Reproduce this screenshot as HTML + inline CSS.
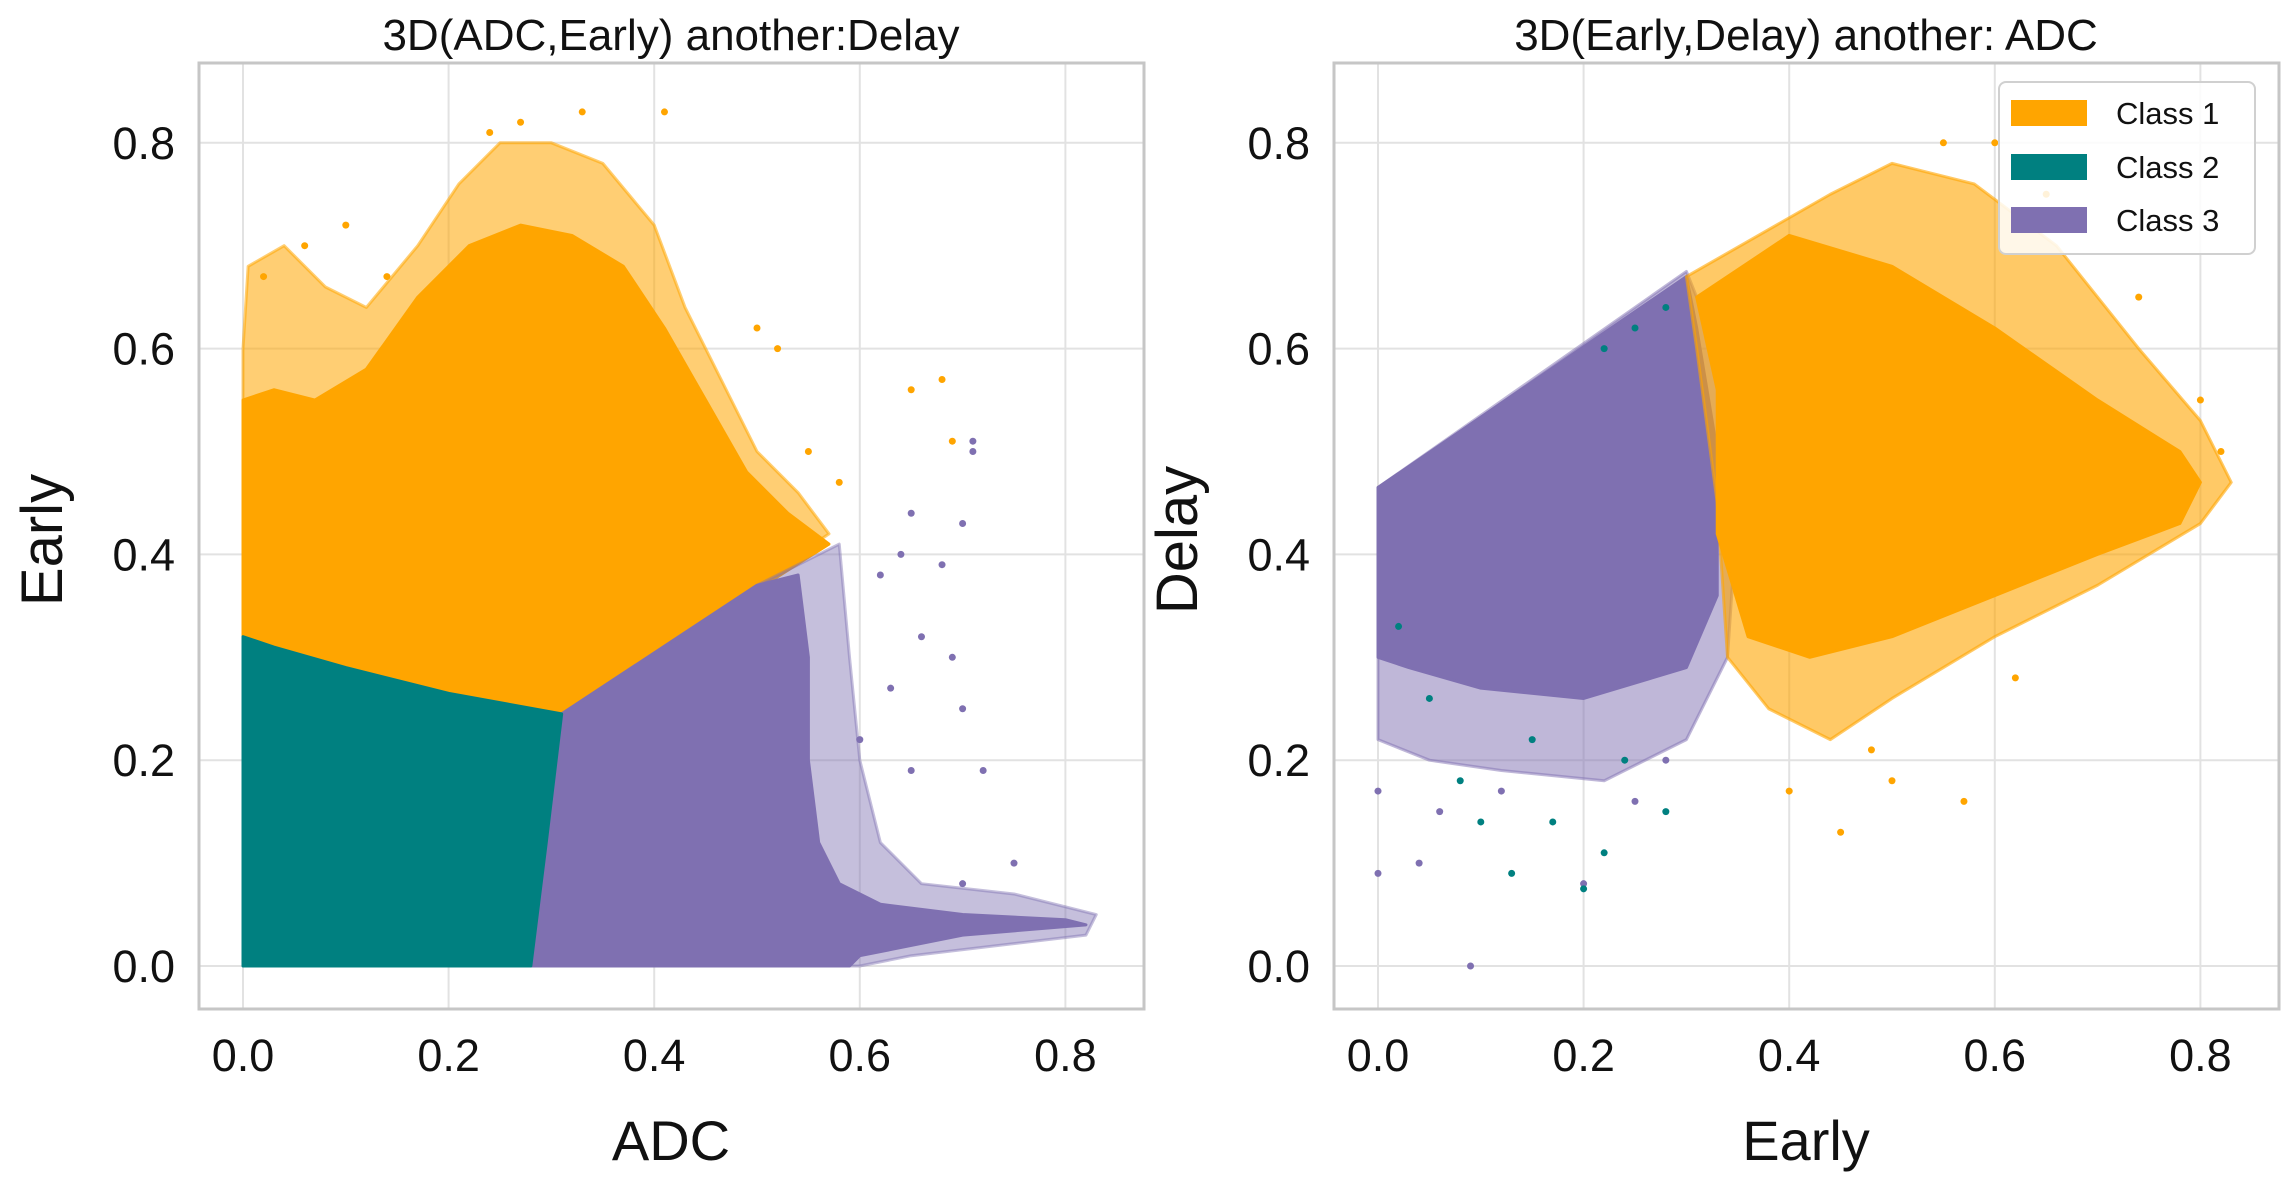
<!DOCTYPE html>
<html><head><meta charset="utf-8"><style>
html,body{margin:0;padding:0;background:#fff}
svg{display:block;font-family:"Liberation Sans",Arial,sans-serif}
</style></head><body>
<svg id="chart" width="2290" height="1181" viewBox="0 0 2290 1181" xmlns="http://www.w3.org/2000/svg">
<g id="left"></g>
<g id="right"></g>
</svg>
<script>
const ticks=[0,0.2,0.4,0.6,0.8];
const tickLabels=["0.0","0.2","0.4","0.6","0.8"];
// Left panel (ADC vs Early) region outlines in data coords [x,y]
const L_orangeFringe=[[0,0.32],[0,0.6],[0.005,0.68],[0.04,0.7],[0.08,0.66],[0.12,0.64],[0.17,0.7],[0.21,0.76],[0.25,0.8],[0.3,0.8],[0.35,0.78],[0.4,0.72],[0.43,0.64],[0.47,0.56],[0.5,0.5],[0.54,0.46],[0.57,0.42],[0.31,0.245],[0.2,0.265],[0.1,0.29]];
const L_orangeCore=[[0,0.32],[0,0.55],[0.03,0.56],[0.07,0.55],[0.12,0.58],[0.17,0.65],[0.22,0.7],[0.27,0.72],[0.32,0.71],[0.37,0.68],[0.41,0.62],[0.45,0.55],[0.49,0.48],[0.53,0.44],[0.57,0.41],[0.31,0.245],[0.2,0.265],[0.1,0.29]];
const L_purpleFringe=[[0.31,0.245],[0.5,0.37],[0.58,0.41],[0.59,0.3],[0.6,0.2],[0.62,0.12],[0.66,0.08],[0.75,0.07],[0.83,0.05],[0.82,0.03],[0.65,0.01],[0.6,0],[0.28,0]];
const L_purpleCore=[[0.31,0.245],[0.5,0.37],[0.54,0.38],[0.55,0.3],[0.55,0.2],[0.56,0.12],[0.58,0.08],[0.62,0.06],[0.7,0.05],[0.8,0.045],[0.82,0.04],[0.7,0.03],[0.6,0.01],[0.59,0],[0.28,0]];
const L_teal=[[0,0],[0.28,0],[0.295,0.12],[0.31,0.245],[0.2,0.265],[0.1,0.29],[0.03,0.31],[0,0.32]];
const L_orangePts=[[0.33,0.83],[0.24,0.81],[0.27,0.82],[0.41,0.83],[0.02,0.67],[0.06,0.7],[0.1,0.72],[0.14,0.67],[0.65,0.56],[0.68,0.57],[0.69,0.51],[0.5,0.62],[0.52,0.6],[0.58,0.47],[0.55,0.5]];
const L_purplePts=[[0.71,0.51],[0.71,0.5],[0.7,0.43],[0.65,0.44],[0.68,0.39],[0.62,0.38],[0.66,0.32],[0.69,0.3],[0.7,0.25],[0.63,0.27],[0.6,0.22],[0.65,0.19],[0.72,0.19],[0.75,0.1],[0.7,0.08],[0.64,0.4]];
// Right panel (Early vs Delay)
const R_purpleFringe=[[0,0.22],[0,0.465],[0.3,0.675],[0.33,0.6],[0.35,0.45],[0.34,0.3],[0.3,0.22],[0.22,0.18],[0.12,0.19],[0.05,0.2]];
const R_purpleCore=[[0,0.3],[0,0.465],[0.3,0.67],[0.31,0.62],[0.33,0.5],[0.33,0.36],[0.3,0.29],[0.2,0.26],[0.1,0.27],[0.03,0.29]];
const R_orangeFringe=[[0.3,0.67],[0.44,0.75],[0.5,0.78],[0.58,0.76],[0.66,0.7],[0.74,0.6],[0.8,0.53],[0.83,0.47],[0.8,0.43],[0.7,0.37],[0.6,0.32],[0.5,0.26],[0.44,0.22],[0.38,0.25],[0.34,0.3],[0.33,0.45],[0.31,0.6]];
const R_orangeCore=[[0.31,0.65],[0.4,0.71],[0.5,0.68],[0.6,0.62],[0.7,0.55],[0.78,0.5],[0.8,0.47],[0.78,0.43],[0.7,0.4],[0.6,0.36],[0.5,0.32],[0.42,0.3],[0.36,0.32],[0.33,0.42],[0.33,0.56]];
const R_orangePts=[[0.6,0.8],[0.55,0.8],[0.65,0.75],[0.74,0.65],[0.82,0.5],[0.8,0.55],[0.57,0.16],[0.5,0.18],[0.45,0.13],[0.4,0.17],[0.48,0.21],[0.62,0.28]];
const R_purplePts=[[0.0,0.09],[0.04,0.1],[0.09,0.0],[0.0,0.17],[0.06,0.15],[0.12,0.17],[0.2,0.08],[0.25,0.16],[0.28,0.2]];
const R_tealPts=[[0.08,0.18],[0.1,0.14],[0.13,0.09],[0.2,0.075],[0.22,0.11],[0.17,0.14],[0.24,0.2],[0.28,0.15],[0.05,0.26],[0.15,0.22],[0.22,0.6],[0.25,0.62],[0.28,0.64],[0.02,0.33]];

const C1="#FFA500",C2="#008080",C3="#7F70B1";
const NS="http://www.w3.org/2000/svg";
function mk(tag,attrs,parent){const e=document.createElementNS(NS,tag);for(const k in attrs)e.setAttribute(k,attrs[k]);parent.appendChild(e);return e;}

function panel(g,x0,box){
  const sx=v=>x0+v*1028, sy=v=>966-v*1029;
  const bg=mk('rect',{x:box[0],y:63,width:box[1]-box[0],height:1009-63,fill:'#fff'},g);
  
  
  ticks.forEach((t,i)=>{
    const gx=mk('line',{x1:sx(t),x2:sx(t),y1:63,y2:1009,stroke:'#e2e2e2','stroke-width':2},g);
    
    
    const gy=mk('line',{x1:box[0],x2:box[1],y1:sy(t),y2:sy(t),stroke:'#e2e2e2','stroke-width':2},g);
    
    
    const tx=mk('text',{x:sx(t),y:1071,'font-size':45,'text-anchor':'middle',fill:'#111'},g);
    tx.textContent=tickLabels[i];
    
    
    const ty=mk('text',{x:box[0]-24,y:sy(t)+16,'font-size':45,'text-anchor':'end',fill:'#111'},g);
    ty.textContent=tickLabels[i];
    
    
  });
  return {sx,sy};
}
function poly(g,pts,sx,sy,fill,op,name){
  const p=mk('polygon',{points:pts.map(d=>sx(d[0])+','+sy(d[1])).join(' '),fill:fill,'fill-opacity':op,stroke:fill,'stroke-opacity':op,'stroke-width':3,'stroke-linejoin':'round'},g);
  
  
}
function dots(g,pts,sx,sy,fill,name){
  pts.forEach(d=>{
    const c=mk('circle',{cx:sx(d[0]),cy:sy(d[1]),r:3.5,fill:fill},g);
    
    
  });
}
function frame(g,box){
  const r=mk('rect',{x:box[0],y:63,width:box[1]-box[0],height:1009-63,fill:'none',stroke:'#c6c6c6','stroke-width':3},g);
  
  
}
function label(g,txt,x,y,size,name,rot){
  const t=mk('text',{x:x,y:y,'font-size':size,'text-anchor':'middle',fill:'#111'},g);
  if(rot)t.setAttribute('transform','rotate(-90 '+x+' '+y+')');
  t.textContent=txt;
  
  
}

// LEFT
const gl=document.getElementById('left');
const LB=[199,1144];
const a=panel(gl,243,LB);
poly(gl,L_orangeFringe,a.sx,a.sy,C1,0.55,'class1-fringe');
poly(gl,L_orangeCore,a.sx,a.sy,C1,1,'class1-region');
dots(gl,L_orangePts,a.sx,a.sy,C1,'class1-point');
poly(gl,L_purpleFringe,a.sx,a.sy,C3,0.45,'class3-fringe');
poly(gl,L_purpleCore,a.sx,a.sy,C3,1,'class3-region');
dots(gl,L_purplePts,a.sx,a.sy,C3,'class3-point');
poly(gl,L_teal,a.sx,a.sy,C2,1,'class2-region');
frame(gl,LB);
label(gl,'3D(ADC,Early) another:Delay',671,50,44,'left-title');
label(gl,'ADC',671,1160,56,'left-x-axis-title');
label(gl,'Early',62,540,58,'left-y-axis-title',true);

// RIGHT
const gr=document.getElementById('right');
const RB=[1334,2279];
const b=panel(gr,1378,RB);
poly(gr,R_purpleFringe,b.sx,b.sy,C3,0.5,'class3-fringe');
poly(gr,R_purpleCore,b.sx,b.sy,C3,1,'class3-region');
dots(gr,R_purplePts,b.sx,b.sy,C3,'class3-point');
dots(gr,R_tealPts,b.sx,b.sy,C2,'class2-point');
poly(gr,R_orangeFringe,b.sx,b.sy,C1,0.6,'class1-fringe');
poly(gr,R_orangeCore,b.sx,b.sy,C1,1,'class1-region');
dots(gr,R_orangePts,b.sx,b.sy,C1,'class1-point');
frame(gr,RB);
label(gr,'3D(Early,Delay) another: ADC',1806,50,44,'right-title');
label(gr,'Early',1806,1160,56,'right-x-axis-title');
label(gr,'Delay',1197,540,58,'right-y-axis-title',true);

// legend
const lg=mk('g',{},gr);


const lb=mk('rect',{x:1999,y:82,width:256,height:172,rx:7,fill:'#fff','fill-opacity':0.85,stroke:'#d0d0d0','stroke-width':2},lg);


const legNames=["Class 1","Class 2","Class 3"], legCols=[C1,C2,C3], legY=[113,167,220];
legNames.forEach((n,i)=>{
  const s=mk('rect',{x:2011,y:legY[i]-13,width:76,height:26,fill:legCols[i]},lg);
  
  
  const t=mk('text',{x:2116,y:legY[i]+11,'font-size':31,fill:'#111'},lg);
  t.textContent=n;
  
  
});
</script>
</body></html>
